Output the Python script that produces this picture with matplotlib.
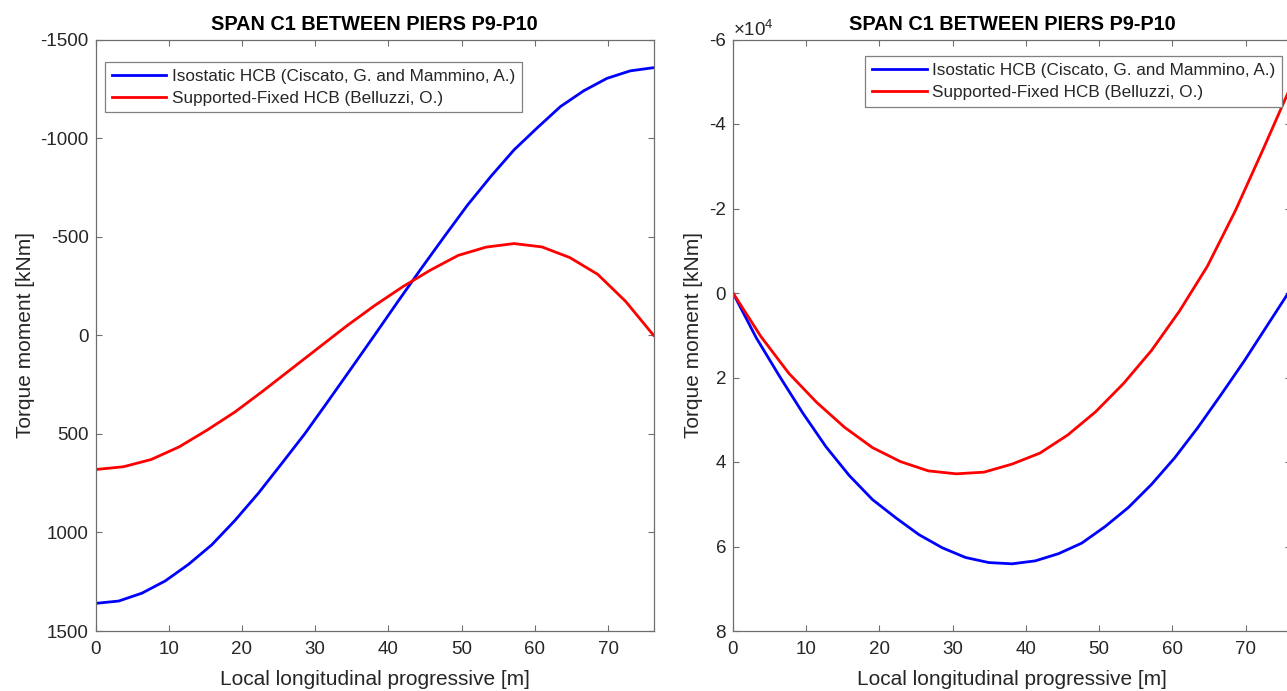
import matplotlib
matplotlib.use("Agg")
import matplotlib.pyplot as plt
from matplotlib.ticker import FuncFormatter

# ---------------- data ----------------
span_length = 76.2
title_text = "SPAN C1 BETWEEN PIERS P9-P10"
xlabel_text = "Local longitudinal progressive [m]"
ylabel_text = "Torque moment [kNm]"
label_iso = "Isostatic HCB (Ciscato, G. and Mammino, A.)"
label_sf = "Supported-Fixed HCB (Belluzzi, O.)"

x_iso = [0, 3.175, 6.35, 9.525, 12.7, 15.875, 19.05, 22.225, 25.4, 28.575,
         31.75, 34.925, 38.1, 41.275, 44.45, 47.625, 50.8, 53.975, 57.15,
         60.325, 63.5, 66.675, 69.85, 73.025, 76.2]
x_sf = [0, 3.81, 7.62, 11.43, 15.24, 19.05, 22.86, 26.67, 30.48, 34.29, 38.1,
        41.91, 45.72, 49.53, 53.34, 57.15, 60.96, 64.77, 68.58, 72.39, 76.2]

# left panel (kNm)
left_iso = [1360, 1348, 1308, 1246, 1162, 1063, 939, 802, 652, 500,
            335, 168, 0, -170, -337, -500, -660, -805, -940,
            -1052, -1160, -1240, -1303, -1341, -1357]
left_sf = [681, 667, 630, 566, 481, 389, 283, 173, 63, -47, -150,
           -245, -330, -405, -447, -465, -448, -394, -309, -172, 0]

# right panel (kNm)
right_iso = [0, 10600, 19700, 28400, 36400, 43200, 48900, 53200, 57200, 60300,
             62600, 63800, 64100, 63400, 61700, 59200, 55300, 50800, 45300,
             39000, 31800, 24000, 16000, 7500, -1000]
right_sf = [0, 10300, 19000, 25900, 31800, 36600, 39900, 42100, 42800, 42400,
            40500, 37900, 33600, 28100, 21400, 13600, 4300, -6300, -19400,
            -34000, -49000]

left_yticks = [-1500, -1000, -500, 0, 500, 1000, 1500]
right_yticks = [-60000, -40000, -20000, 0, 20000, 40000, 60000, 80000]
right_exponent = 4
xticks = [0, 10, 20, 30, 40, 50, 60, 70]

# ---------------- style ----------------
plt.rcParams['font.family'] = ['Liberation Sans', 'DejaVu Sans']
plt.rcParams['mathtext.fontset'] = 'custom'
plt.rcParams['mathtext.rm'] = 'Liberation Sans'
plt.rcParams['axes.unicode_minus'] = False
W, H = 1287, 691
fig = plt.figure(figsize=(W / 100, H / 100), dpi=100)
fig.patch.set_facecolor('white')

ax_w = 558 / W
ax_h = 591.5 / H
ax_b = (H - 631) / H
axL = fig.add_axes([95.5 / W, ax_b, ax_w, ax_h])
axR = fig.add_axes([733 / W, ax_b, ax_w, ax_h])

spine_col = '#6e6e6e'
text_col = '#262626'


def style(ax, ylab_x):
    for s in ax.spines.values():
        s.set_color(spine_col)
        s.set_linewidth(0.9)
    ax.tick_params(direction='in', length=4.5, width=0.8, color=spine_col,
                   top=True, right=True, labelsize=13.5, labelcolor=text_col,
                   pad=5)
    ax.tick_params(axis='x', pad=7.5)
    ax.set_xlim(0, span_length)
    ax.set_xticks(xticks)
    ax.set_xlabel(xlabel_text, fontsize=15, color=text_col, labelpad=8)
    ax.set_ylabel(ylabel_text, fontsize=15, color=text_col)
    ax.yaxis.set_label_coords(ylab_x, 0.5)
    ax.set_title(title_text, fontsize=14.3, fontweight='bold', color='black', pad=7)


lw = 2.0
axL.plot(x_iso, left_iso, color=(0, 0, 1), lw=lw, label=label_iso)
axL.plot(x_sf, left_sf, color=(1, 0, 0), lw=lw, label=label_sf)
style(axL, (35 - 95.5) / 558)
axL.set_ylim(1500, -1500)
axL.set_yticks(left_yticks)

axR.plot(x_iso, right_iso, color=(0, 0, 1), lw=lw, label=label_iso)
axR.plot(x_sf, right_sf, color=(1, 0, 0), lw=lw, label=label_sf)
style(axR, (703 - 733) / 558)
axR.set_ylim(80000, -60000)
axR.set_yticks(right_yticks)
scale = 10 ** right_exponent
axR.yaxis.set_major_formatter(FuncFormatter(lambda v, p: f"{v / scale:g}"))
axR.text(0.0, 0.999, r"$\times 10^{%d}$" % right_exponent, transform=axR.transAxes,
         ha='left', va='bottom', fontsize=13.5, color=text_col)

leg_kw = dict(fontsize=12.3, frameon=True, fancybox=False, framealpha=1,
              edgecolor='#808080', handlelength=3.2, handletextpad=0.3,
              borderpad=0.4, labelspacing=0.4, borderaxespad=0)
legL = axL.legend(loc='upper left', bbox_to_anchor=(0.017, 0.962), **leg_kw)
legR = axR.legend(loc='upper right', bbox_to_anchor=(0.984, 0.972), **leg_kw)
for lg in (legL, legR):
    lg.get_frame().set_linewidth(0.9)
    for t in lg.get_texts():
        t.set_color(text_col)

fig.savefig('out.png', dpi=100)
